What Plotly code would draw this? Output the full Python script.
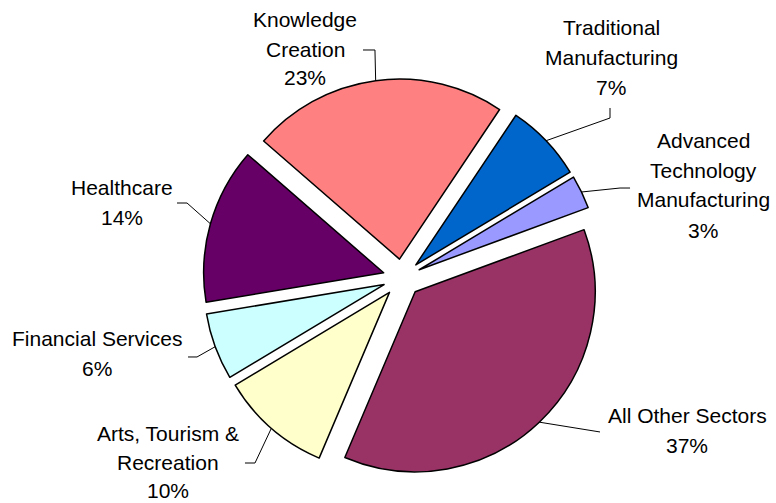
import math
import plotly.graph_objects as go

# ---- data ----
sectors = ["Knowledge Creation", "Traditional Manufacturing", "Advanced Technology Manufacturing",
           "All Other Sectors", "Arts, Tourism & Recreation", "Financial Services", "Healthcare"]
shares = [23, 7, 3, 37, 10, 6, 14]
label_lines = [["Knowledge", "Creation"], ["Traditional", "Manufacturing"],
               ["Advanced", "Technology", "Manufacturing"], ["All Other Sectors"],
               ["Arts, Tourism &", "Recreation"], ["Financial Services"], ["Healthcare"]]
colors = ["#FF8080", "#0066CC", "#9999FF", "#993366", "#FFFFCC", "#CCFFFF", "#660066"]

# ---- layout constants (pixels) ----
W, H = 776, 503
CX, CY = 402, 278          # pie centre
R = 180                    # pie radius
PULL = 0.106
ROT = -49
half = R * (1 + PULL)

# label x centre and centre y of each text line, pixels
label_x = [305, 611, 703, 687, 168, 97, 122]
label_y = [[20, 49, 78], [27, 57, 87], [140, 170, 200, 230], [415, 445],
           [433, 462, 490], [338, 368], [187, 217]]
elbows = [[(375, 50), (363, 50)],
          [(610, 118), (610, 108)],
          [(620, 188), (630, 188)],
          [(600, 432)],
          [(255, 463), (245, 463)],
          [(197, 357), (188, 357)],
          [(187, 203), (177, 203)]]

def px(x, y):
    return x / W, 1 - y / H

fig = go.Figure(go.Pie(
    labels=sectors, values=shares, sort=False, direction="clockwise", rotation=ROT,
    pull=[PULL] * len(shares), textinfo="none", hoverinfo="label+percent",
    marker=dict(colors=colors, line=dict(color="black", width=1.5)),
    domain=dict(x=[(CX - half) / W, (CX + half) / W], y=[1 - (CY + half) / H, 1 - (CY - half) / H]),
    showlegend=False,
))

total = sum(shares)
cum = 0
shapes = []
annotations = []
font = dict(family="Liberation Sans, Arial", size=21, color="black")
for i, v in enumerate(shares):
    mid = ROT + (cum + v / 2) / total * 360
    cum += v
    a = math.radians(mid)
    sx = CX + half * math.sin(a)
    sy = CY - half * math.cos(a)
    pts = [(sx, sy)] + elbows[i]
    path = "M " + " L ".join("%.4f,%.4f" % px(x, y) for x, y in pts)
    shapes.append(dict(type="path", path=path, xref="paper", yref="paper",
                       line=dict(color="black", width=1)))
    pct = round(v / total * 100)
    lines = label_lines[i] + ["%d%%" % pct]
    for txt, yy in zip(lines, label_y[i]):
        lx, ly = px(label_x[i], yy)
        annotations.append(dict(text=txt, x=lx, y=ly, xref="paper", yref="paper",
                                xanchor="center", yanchor="middle", align="center",
                                showarrow=False, font=font))

fig.update_layout(width=W, height=H, margin=dict(l=0, r=0, t=0, b=0),
                  paper_bgcolor="white", plot_bgcolor="white",
                  shapes=shapes, annotations=annotations)
fig.write_html("out.html", config={"displayModeBar": False},
               post_script="document.body.style.margin='0';document.body.style.overflow='hidden';")
